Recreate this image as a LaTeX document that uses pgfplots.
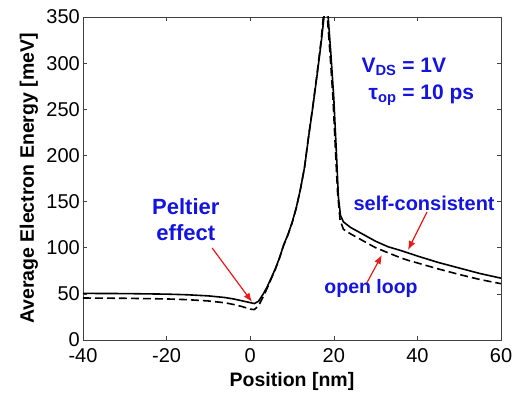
\documentclass[border=0pt]{standalone}
\usepackage{pgfplots}
\pgfplotsset{compat=1.18}
\usetikzlibrary{arrows.meta}
\usepackage{fontspec}
\setmainfont{Liberation Sans}
\setsansfont{Liberation Sans}
\definecolor{txtblue}{rgb}{0.08,0.08,0.88}
\definecolor{arrred}{rgb}{0.93,0.1,0.1}
\begin{document}
\begin{tikzpicture}
\begin{axis}[
  at={(0,0)}, anchor=south west,
  scale only axis, width=418pt, height=323pt,
  xmin=-40, xmax=60, ymin=0, ymax=350,
  xtick={-40,-20,0,20,40,60},
  ytick={0,50,100,150,200,250,300,350},
  axis line style={black!75, line width=0.8pt},
  tick style={black!75, line width=0.6pt},
  major tick length=4pt,
  tick label style={font=\fontsize{20}{22}\selectfont},
  /pgf/number format/assume math mode=true,
  xticklabel style={inner sep=0pt, yshift=-8pt},
  yticklabel style={inner sep=0pt, xshift=-3pt},
  xlabel={\bfseries Position [nm]},
  ylabel={\bfseries Average Electron Energy [meV]},
  label style={font=\fontsize{19.5}{22}\selectfont},
  xlabel style={yshift=-6pt},
  ylabel style={yshift=5pt},
  clip=true,
]
\addplot[black, line width=1.6pt] coordinates {
(-40,50.5) (-30,50.3) (-20,49.7) (-15,49) (-10,47.8) (-6,46) (-4,44.5) (-2,42.5) (0,40.5) (1,39.5) (2,42) (3,49) (4,57) (5,67) (6,77) (7,89) (8,103) (9,114) (10,127) (11,143) (12,163) (13,187) (14,221) (15,253) (16,287) (17,323) (17.8,356) (18.6,353) (19.3,310) (20,262) (20.6,205) (21.1,155) (21.6,135) (22.3,128) (24,122) (26,117) (28,112) (30,107) (33,101) (36,97) (38,94) (40,91) (45,84) (50,78) (55,72) (60,67)
};
\addplot[black, line width=1.6pt, dash pattern=on 8pt off 4pt] coordinates {
(-40,45.5) (-30,45.2) (-20,44.5) (-15,43.7) (-10,42.3) (-6,40.3) (-4,38.5) (-2,36.3) (0,33.5) (1,33) (2,37) (3,46) (4,55.5) (5,66) (6,76.5) (7,88.5) (8,102.5) (9,113.5) (10,126.5) (11,142.5) (12,163) (13,187.5) (14,222) (15,254) (16,289) (17,326) (17.6,356) (18.4,353) (19.1,310) (19.8,262) (20.4,205) (20.9,160) (21.5,130) (22.3,120) (24,115) (26,110) (28,105) (30,100) (33,94.5) (36,89) (38,86) (40,83.5) (45,77) (50,71) (55,65.5) (60,61)
};
\node[anchor=west, text=txtblue, font=\fontsize{21}{24}\selectfont\bfseries] at (axis cs:25.8,296) {V\textsubscript{DS} = 1V};
\node[anchor=west, text=txtblue, font=\fontsize{21}{24}\selectfont\bfseries] at (axis cs:27.5,265) {τ\textsubscript{op} = 10 ps};
\node[align=center, text=txtblue, font=\fontsize{22}{26}\selectfont\bfseries] at (axis cs:-15.4,130) {Peltier\\effect};
\node[text=txtblue, font=\fontsize{20}{22}\selectfont\bfseries] at (axis cs:41.6,148.4) {self-consistent};
\node[text=txtblue, font=\fontsize{19.5}{22}\selectfont\bfseries] at (axis cs:28.9,56.3) {open loop};
\draw[arrred, line width=1.2pt, -{Latex[length=9pt,width=7pt]}] (axis cs:-9.1,99.7) -- (axis cs:0.43,41.2);
\draw[arrred, line width=1.2pt, -{Latex[length=9pt,width=7pt]}] (axis cs:42.3,138.7) -- (axis cs:37.75,97.5);
\draw[arrred, line width=1.2pt, -{Latex[length=9pt,width=7pt]}] (axis cs:27.9,61.8) -- (axis cs:31.5,92.1);
\end{axis}
\pgfresetboundingbox
\path[use as bounding box] (-83pt,-56pt) rectangle (436pt,340pt);
\end{tikzpicture}
\end{document}
